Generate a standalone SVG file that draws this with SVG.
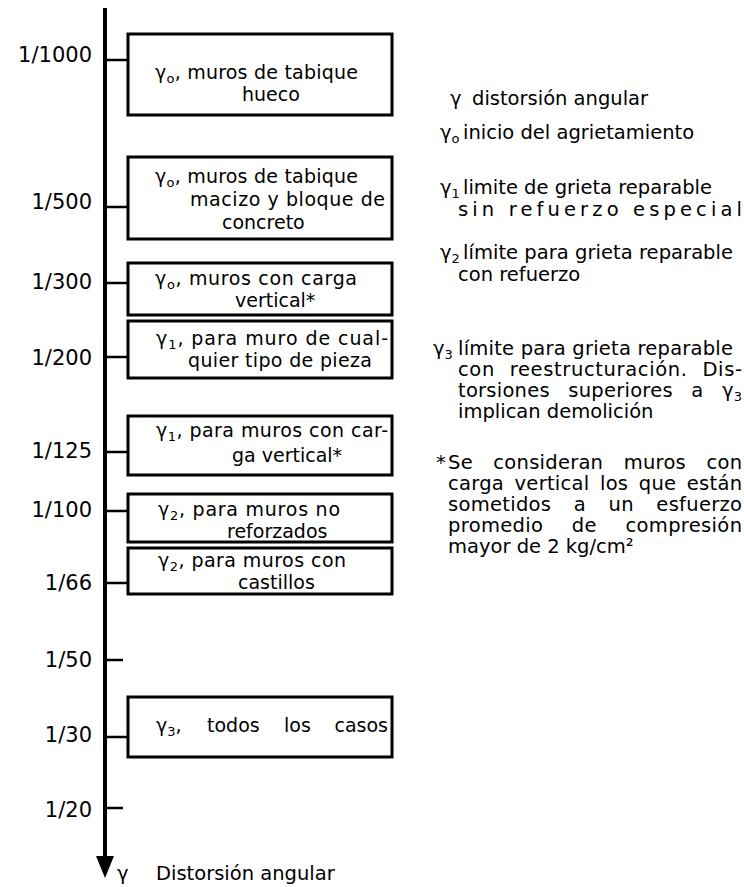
<svg xmlns="http://www.w3.org/2000/svg" width="744" height="887" viewBox="0 0 744 887">
<style>
text{font-family:"DejaVu Sans","Liberation Sans",sans-serif;fill:#000}
.lab{font-size:21px;text-anchor:end}
.bx{font-size:19px}
.lg{font-size:19.5px}
.sub{font-size:13px}
.box{fill:#fff;stroke:#000;stroke-width:3}
.tick{stroke:#000;stroke-width:2.5}
</style>
<rect width="744" height="887" fill="#fff"/>
<g id="axis">
<line x1="105" y1="8" x2="105" y2="860" stroke="#000" stroke-width="4"/>
<polygon points="96,856 114,856 105,878" fill="#000"/>
<text x="117" y="880" class="lg">γ</text>
<text x="156" y="880" class="lg">Distorsión angular</text>
</g>
<g id="connectors">
<line class="tick" x1="105" y1="60" x2="128" y2="60"/>
<line class="tick" x1="105" y1="207" x2="128" y2="207"/>
<line class="tick" x1="105" y1="283" x2="128" y2="283"/>
<line class="tick" x1="105" y1="357" x2="128" y2="357"/>
<line class="tick" x1="105" y1="452" x2="128" y2="452"/>
<line class="tick" x1="105" y1="511" x2="128" y2="511"/>
<line class="tick" x1="105" y1="583" x2="128" y2="583"/>
<line class="tick" x1="105" y1="660" x2="123" y2="660"/>
<line class="tick" x1="105" y1="737" x2="128" y2="737"/>
<line class="tick" x1="105" y1="808" x2="123" y2="808"/>
</g>
<g id="labels">
<text class="lab" x="92" y="62">1/1000</text>
<text class="lab" x="92" y="209">1/500</text>
<text class="lab" x="92" y="289">1/300</text>
<text class="lab" x="92" y="365">1/200</text>
<text class="lab" x="92" y="458">1/125</text>
<text class="lab" x="92" y="517">1/100</text>
<text class="lab" x="92" y="590">1/66</text>
<text class="lab" x="92" y="667">1/50</text>
<text class="lab" x="92" y="742">1/30</text>
<text class="lab" x="92" y="817">1/20</text>
</g>
<g id="box1">
<rect class="box" x="128" y="34" width="264" height="81"/>
<text class="bx" x="155" y="79" textLength="203" lengthAdjust="spacing">γ<tspan class="sub" dy="4">o</tspan><tspan dy="-4">, muros de tabique</tspan></text>
<text class="bx" x="242" y="101">hueco</text>
</g>
<g id="box2">
<rect class="box" x="128" y="157" width="264" height="82"/>
<text class="bx" x="155" y="183" textLength="203" lengthAdjust="spacing">γ<tspan class="sub" dy="4">o</tspan><tspan dy="-4">, muros de tabique</tspan></text>
<text class="bx" x="190" y="206" textLength="195" lengthAdjust="spacing">macizo y bloque de</text>
<text class="bx" x="222" y="229">concreto</text>
</g>
<g id="box3">
<rect class="box" x="128" y="263" width="264" height="52"/>
<text class="bx" x="155" y="285" textLength="202" lengthAdjust="spacing">γ<tspan class="sub" dy="4">o</tspan><tspan dy="-4">, muros con carga</tspan></text>
<text class="bx" x="235" y="307">vertical*</text>
</g>
<g id="box4">
<rect class="box" x="128" y="321" width="264" height="57"/>
<text class="bx" x="156" y="345" textLength="232" lengthAdjust="spacing">γ<tspan class="sub" dy="4">1</tspan><tspan dy="-4">, para muro de cual-</tspan></text>
<text class="bx" x="188" y="367" textLength="184" lengthAdjust="spacing">quier tipo de pieza</text>
</g>
<g id="box5">
<rect class="box" x="128" y="416" width="264" height="59"/>
<text class="bx" x="156" y="437" textLength="232" lengthAdjust="spacing">γ<tspan class="sub" dy="4">1</tspan><tspan dy="-4">, para muros con car-</tspan></text>
<text class="bx" x="232" y="462">ga vertical*</text>
</g>
<g id="box6">
<rect class="box" x="128" y="494" width="264" height="48"/>
<text class="bx" x="158" y="516" textLength="182" lengthAdjust="spacing">γ<tspan class="sub" dy="4">2</tspan><tspan dy="-4">, para muros no</tspan></text>
<text class="bx" x="227" y="538">reforzados</text>
</g>
<g id="box7">
<rect class="box" x="128" y="548" width="264" height="46"/>
<text class="bx" x="158" y="567" textLength="188" lengthAdjust="spacing">γ<tspan class="sub" dy="4">2</tspan><tspan dy="-4">, para muros con</tspan></text>
<text class="bx" x="238" y="589">castillos</text>
</g>
<g id="box8">
<rect class="box" x="128" y="697" width="264" height="60"/>
<text class="bx" x="156" y="732">γ<tspan class="sub" dy="4">3</tspan><tspan dy="-4">,</tspan></text>
<text class="bx" x="207" y="732">todos</text>
<text class="bx" x="284" y="732">los</text>
<text class="bx" x="388" y="732" text-anchor="end">casos</text>
</g>
<g id="legend">
<text class="lg" x="450" y="105">γ</text>
<text class="lg" x="472" y="105">distorsión angular</text>
<text class="lg" x="440" y="139">γ<tspan class="sub" dy="4">o</tspan></text>
<text class="lg" x="463" y="139">inicio del agrietamiento</text>
<text class="lg" x="440" y="194">γ<tspan class="sub" dy="4">1</tspan></text>
<text class="lg" x="463" y="194">limite de grieta reparable</text>
<text class="lg" x="458" y="216" textLength="284" lengthAdjust="spacing">sin refuerzo especial</text>
<text class="lg" x="440" y="259">γ<tspan class="sub" dy="4">2</tspan></text>
<text class="lg" x="463" y="259" textLength="270" lengthAdjust="spacing">límite para grieta reparable</text>
<text class="lg" x="458" y="281">con refuerzo</text>
<text class="lg" x="433" y="355">γ<tspan class="sub" dy="4">3</tspan></text>
<text class="lg" x="458" y="355" textLength="275" lengthAdjust="spacing">límite para grieta reparable</text>
<text class="lg" x="458" y="376" textLength="284" lengthAdjust="spacing" word-spacing="8">con reestructuración. Dis-</text>
<text class="lg" x="458" y="397" textLength="284" lengthAdjust="spacing" word-spacing="12">torsiones superiores a γ<tspan class="sub" dy="4">3</tspan></text>
<text class="lg" x="458" y="418">implican demolición</text>
<text class="lg" x="436" y="469">*</text>
<text class="lg" x="448" y="469" textLength="294" lengthAdjust="spacing" word-spacing="14">Se consideran muros con</text>
<text class="lg" x="448" y="490" textLength="294" lengthAdjust="spacing" word-spacing="4">carga vertical los que están</text>
<text class="lg" x="448" y="511" textLength="294" lengthAdjust="spacing" word-spacing="16">sometidos a un esfuerzo</text>
<text class="lg" x="448" y="532" textLength="294" lengthAdjust="spacing" word-spacing="22">promedio de compresión</text>
<text class="lg" x="448" y="553">mayor de 2 kg/cm²</text>
</g>
</svg>
